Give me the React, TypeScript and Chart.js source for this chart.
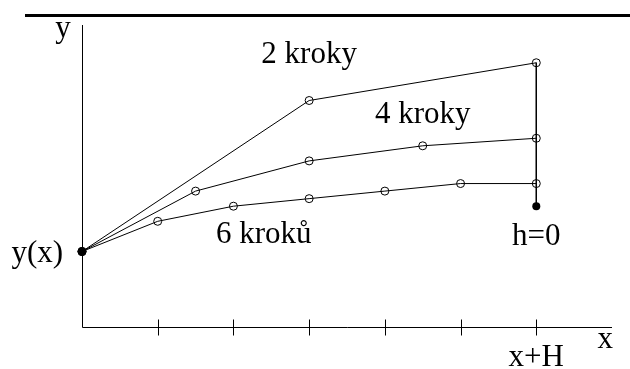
import React, { useEffect, useRef } from "react";
import { Chart, registerables } from "chart.js";

Chart.register(...registerables);

// Data (x in step units 0..7, y in arbitrary units 0..10)
const xs2 = [0, 3, 6];
const ys2 = [2.5, 7.5, 8.75];
const xs4 = [0, 1.5, 3, 4.5, 6];
const ys4 = [2.5, 4.5, 5.5, 6.0, 6.25];
const xs6 = [0, 1, 2, 3, 4, 5, 6];
const ys6 = [2.5, 3.5, 4.0, 4.25, 4.5, 4.75, 4.75];
const xsLimit = [6, 6];
const ysLimit = [8.75, 4.0];
const startX = [0];
const startY = [2.5];
const tickValues = [1, 2, 3, 4, 5, 6];

// Text annotations [text, x, y, align]
const labelTexts = ["2 kroky", "4 kroky", "6 kroků", "h=0", "y(x)", "y", "x", "x+H"];
const labelXs = [3.0, 4.5, 2.4, 6.0, -0.25, -0.25, 6.91, 6.0];
const labelYs = [8.74, 6.75, 2.78, 2.72, 2.15, 9.6, -0.7, -1.29];
const labelAligns = ["center", "center", "center", "center", "right", "center", "center", "center"];

const FONT = '31px "Liberation Serif", "Times New Roman", serif';

const toPts = (xs: number[], ys: number[]) => xs.map((x, i) => ({ x, y: ys[i] }));

const decorPlugin = {
  id: "decor",
  beforeDatasetsDraw(chart: any) {
    const { ctx, scales } = chart;
    const sx = scales.x;
    const sy = scales.y;
    ctx.save();
    // top rule
    ctx.fillStyle = "#000";
    ctx.fillRect(25, 14, 605, 3);
    // axes
    ctx.strokeStyle = "#000";
    ctx.lineWidth = 1;
    const x0 = Math.round(sx.getPixelForValue(0)) + 0.5;
    const y0 = Math.round(sy.getPixelForValue(0)) + 0.5;
    ctx.beginPath();
    ctx.moveTo(x0, Math.round(sy.getPixelForValue(10)));
    ctx.lineTo(x0, y0);
    ctx.lineTo(sx.getPixelForValue(7), y0);
    ctx.stroke();
    // ticks
    tickValues.forEach((v) => {
      const px = Math.round(sx.getPixelForValue(v)) + 0.5;
      ctx.beginPath();
      ctx.moveTo(px, y0 - 8);
      ctx.lineTo(px, y0 + 8);
      ctx.stroke();
    });
    ctx.restore();
  },
  afterDatasetsDraw(chart: any) {
    const { ctx, scales } = chart;
    ctx.save();
    ctx.fillStyle = "#000";
    ctx.font = FONT;
    ctx.textBaseline = "alphabetic";
    labelTexts.forEach((t, i) => {
      ctx.textAlign = labelAligns[i];
      ctx.fillText(t, scales.x.getPixelForValue(labelXs[i]), scales.y.getPixelForValue(labelYs[i]));
    });
    ctx.restore();
  },
};

export default function App() {
  const ref = useRef<HTMLCanvasElement | null>(null);
  useEffect(() => {
    if (!ref.current) return;
    const openPt = {
      borderColor: "#000",
      borderWidth: 1,
      pointRadius: 4,
      pointBorderWidth: 1,
      pointBorderColor: "#000",
      pointBackgroundColor: "rgba(0,0,0,0)",
      fill: false,
      tension: 0,
      clip: false,
    };
    const chart = new Chart(ref.current, {
      type: "line",
      data: {
        datasets: [
          { label: "2 kroky", data: toPts(xs2, ys2), ...openPt },
          { label: "4 kroky", data: toPts(xs4, ys4), ...openPt },
          { label: "6 kroků", data: toPts(xs6, ys6), ...openPt },
          {
            label: "h=0",
            data: toPts(xsLimit, ysLimit),
            borderColor: "#000",
            borderWidth: 1,
            pointRadius: [0, 4],
            pointBorderWidth: 0,
            pointBackgroundColor: "#000",
            fill: false,
            clip: false,
          },
          {
            label: "y(x)",
            data: toPts(startX, startY),
            showLine: false,
            pointRadius: 4,
            pointBorderWidth: 0,
            pointBackgroundColor: "#000",
            clip: false,
          },
        ],
      },
      options: {
        responsive: false,
        animation: false,
        layout: { padding: { left: 82, right: 18, top: 25, bottom: 42 } },
        plugins: { legend: { display: false }, tooltip: { enabled: false } },
        scales: {
          x: { type: "linear", min: 0, max: 7, display: false },
          y: { type: "linear", min: 0, max: 10, display: false },
        },
      },
      plugins: [decorPlugin],
    } as any);
    return () => chart.destroy();
  }, []);
  return (
    <div style={{ position: "fixed", left: 0, top: 0, width: 630, height: 369, background: "#fff" }}>
      <canvas ref={ref} width={630} height={369} style={{ width: 630, height: 369 }} />
    </div>
  );
}
